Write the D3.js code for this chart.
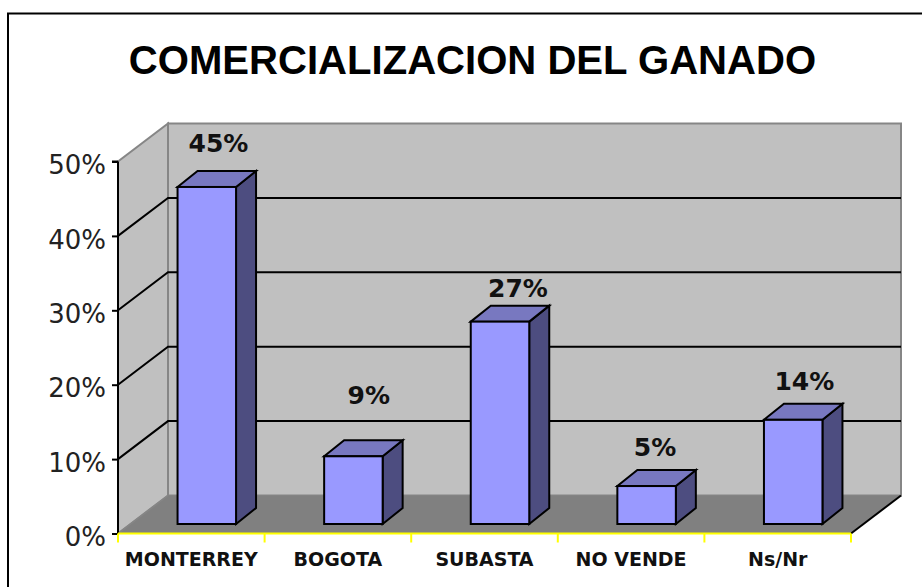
<!DOCTYPE html>
<html><head><meta charset="utf-8">
<script src="https://cdn.jsdelivr.net/npm/d3@7"></script>
<style>html,body{margin:0;padding:0;background:#fff}svg{display:block}</style></head>
<body><svg id="c" width="922" height="587"></svg>
<script>
const categories=["MONTERREY","BOGOTA","SUBASTA","NO VENDE","Ns/Nr"];
const values=[45.3,9.1,27.2,5.1,14.0];
const valueLabels=["45%","9%","27%","5%","14%"];
const tickValues=[0,10,20,30,40,50];
const titleText="COMERCIALIZACION DEL GANADO";

const svg=d3.select("#c");
const x0=118,x1=851,yB=533.5,yT=161.5,DX=50,DY=38;
const x=d3.scaleBand().domain(categories).range([x0,x1]);
const y=d3.scaleLinear().domain([0,50]).range([yB,yT]);
const line=p=>"M"+p.map(a=>a.join(",")).join("L")+"Z";
const GRID="#868686";

svg.append("rect").attr("x",8).attr("y",13.5).attr("width",930).attr("height",600).attr("fill","#fff").attr("stroke","#000").attr("stroke-width",2);
svg.append("text").text(titleText).attr("x",472.5).attr("y",74).attr("text-anchor","middle")
  .attr("font-family","Liberation Sans").attr("font-weight","bold").attr("font-size",40.1).attr("fill","#000");

// walls
svg.append("path").attr("d",line([[x0,yB],[x0+DX,yB-DY],[x0+DX,yT-DY],[x0,yT]])).attr("fill","#c0c0c0").attr("stroke",GRID).attr("stroke-width",2);
svg.append("path").attr("d",line([[x0+DX,yB-DY],[x1+DX,yB-DY],[x1+DX,yT-DY],[x0+DX,yT-DY]])).attr("fill","#c0c0c0").attr("stroke",GRID).attr("stroke-width",2);
// floor
svg.append("path").attr("d",line([[x0,yB],[x0+DX,yB-DY],[x1+DX,yB-DY],[x1,yB]])).attr("fill","#808080");
svg.append("line").attr("x1",x1).attr("y1",yB).attr("x2",x1+DX).attr("y2",yB-DY).attr("stroke","#000").attr("stroke-width",2);
svg.append("line").attr("x1",x0).attr("y1",yB).attr("x2",x0+DX).attr("y2",yB-DY).attr("stroke",GRID).attr("stroke-width",1.5);
// gridlines
const gt=tickValues.filter(d=>d>0&&d<50);
svg.selectAll(".gb").data(gt).join("path").attr("fill","none").attr("stroke","#000").attr("stroke-width",2)
  .attr("d",d=>`M${x0},${y(d)}L${x0+DX},${y(d)-DY}L${x1+DX},${y(d)-DY}`);
// y axis
const ya=svg.append("g").attr("transform",`translate(${x0},0)`).call(d3.axisLeft(y).tickValues(tickValues).tickSize(6).tickPadding(6).tickFormat(d=>d+"%"));
ya.selectAll("path").attr("d",`M0,${yB}V${yT}M-6,${yT}H0`).attr("stroke","#000").attr("stroke-width",2).attr("fill","none");
ya.selectAll("line").attr("stroke","#000").attr("stroke-width",2);
ya.selectAll("text").attr("font-family","DejaVu Sans").attr("font-size",26).attr("fill","#222").attr("dy","0.47em");
// x axis
const xa=svg.append("g").attr("transform",`translate(0,${yB})`);
xa.append("line").attr("x1",x0).attr("x2",x1).attr("stroke","#ffff00").attr("stroke-width",2);
const edges=categories.map(c=>x(c)).concat([x1]);
xa.selectAll(".t").data(edges).join("line").attr("x1",d=>d).attr("x2",d=>d).attr("y1",0).attr("y2",9).attr("stroke","#ffff00").attr("stroke-width",2);
xa.selectAll(".l").data(categories).join("text").text(d=>d).attr("x",d=>x(d)+x.bandwidth()/2).attr("y",32)
  .attr("text-anchor","middle").attr("font-family","DejaVu Sans").attr("font-weight","bold").attr("font-size",19).attr("fill","#111");

// bars
const barW=58.5,shiftX=15.5,shiftY=9.5,bDX=20,bDY=16;
const labelDX=[11.7,15.4,18,8.4,11.1],labelBase=[35,52.3,24.6,30,29.8];
const bars=svg.selectAll(".bar").data(categories).join("g");
bars.each(function(c,i){
  const g=d3.select(this);
  const L=x(c)+x.bandwidth()/2+shiftX-barW/2,R=L+barW,B=yB-shiftY,T=y(values[i])-shiftY;
  const st=s=>s.attr("stroke","#000").attr("stroke-width",2).attr("stroke-linejoin","miter");
  st(g.append("path").attr("d",line([[R,B],[R+bDX,B-bDY],[R+bDX,T-bDY],[R,T]])).attr("fill","#4d4d80"));
  st(g.append("path").attr("d",line([[L,T],[L+bDX,T-bDY],[R+bDX,T-bDY],[R,T]])).attr("fill","#7878c0"));
  st(g.append("rect").attr("x",L).attr("y",T).attr("width",barW).attr("height",B-T).attr("fill","#9999ff"));
  g.append("text").text(valueLabels[i]).attr("x",(L+R)/2+labelDX[i]).attr("y",T-labelBase[i])
   .attr("text-anchor","middle").attr("font-family","DejaVu Sans").attr("font-weight","bold").attr("font-size",25).attr("fill","#111");
});
</script></body></html>
